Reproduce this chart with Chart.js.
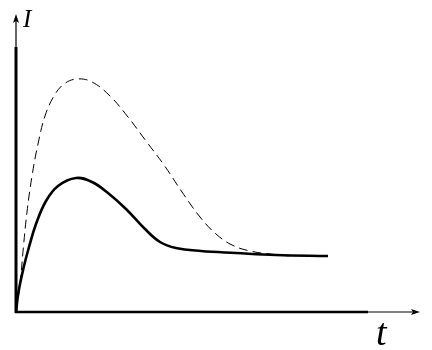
<!DOCTYPE html>
<html>
<head>
<meta charset="utf-8">
<style>
  html, body { margin: 0; padding: 0; background: #fff; }
  #wrap { width: 432px; height: 350px; }
</style>
<script src="https://cdn.jsdelivr.net/npm/chart.js@4/dist/chart.umd.min.js"></script>
</head>
<body>
<div id="wrap"><canvas id="chart" width="432" height="350"></canvas></div>
<script>
// valores (x = tempo, y = corrente, unidades arbitrárias)
var solidX = [0, 2.5, 7.5, 13, 20, 30, 42, 60, 76, 92, 110, 128, 144, 160, 185, 220, 260, 312];
var solidY = [0, 20, 44, 65, 88, 111, 126, 134, 130, 119, 103, 84, 70, 64, 61, 59, 57, 56];

var dashX = [0, 4, 7.5, 11, 16, 22, 29, 38, 48, 61, 76, 94, 112, 130, 148, 166, 184, 200, 216, 234, 254, 274];
var dashY = [0, 28, 66, 100, 136, 168, 196, 216, 228, 233, 230, 216, 195, 171, 147, 120, 95, 78, 67, 61, 58, 56];

var axisLabelY = "I";
var axisLabelX = "t";

function pts(xs, ys) {
    return xs.map(function (x, k) { return { x: x, y: ys[k] }; });
}

// eixos com setas, desenhados a partir das escalas
var axesPlugin = {
    id: "axes",
    beforeDatasetsDraw: function (chart) {
        var c = chart.ctx, sx = chart.scales.x, sy = chart.scales.y;
        var x0 = sx.getPixelForValue(0), y0 = sy.getPixelForValue(0);
        var top = chart.chartArea.top, right = chart.chartArea.right;
        c.save();
        c.strokeStyle = "#000";
        c.fillStyle = "#000";
        c.lineCap = "butt";
        // eixo y
        c.lineWidth = 3;
        c.beginPath(); c.moveTo(x0, y0 + 1); c.lineTo(x0, top + 35); c.stroke();
        c.lineWidth = 1.2;
        c.beginPath(); c.moveTo(x0, top + 36); c.lineTo(x0, top + 8); c.stroke();
        c.beginPath();
        c.moveTo(x0, top + 2); c.lineTo(x0 - 3, top + 11); c.lineTo(x0, top + 9); c.lineTo(x0 + 3, top + 11);
        c.closePath(); c.fill();
        // eixo x
        c.lineWidth = 2.5;
        c.beginPath(); c.moveTo(x0 - 1, y0); c.lineTo(right - 52, y0); c.stroke();
        c.lineWidth = 1.2;
        c.beginPath(); c.moveTo(right - 53, y0); c.lineTo(right - 6, y0); c.stroke();
        c.beginPath();
        c.moveTo(right, y0); c.lineTo(right - 9, y0 - 3); c.lineTo(right - 7, y0); c.lineTo(right - 9, y0 + 3);
        c.closePath(); c.fill();
        // rótulos
        c.font = "italic 25px 'Liberation Serif', serif";
        c.textBaseline = "alphabetic";
        c.fillText(axisLabelY, x0 + 7, top + 15);
        c.font = "italic 38px 'Liberation Serif', serif";
        c.fillText(axisLabelX, right - 44, y0 + 33);
        c.restore();
    }
};

new Chart(document.getElementById("chart").getContext("2d"), {
    type: "line",
    data: {
        datasets: [{
            data: pts(dashX, dashY),
            borderColor: "#000",
            borderWidth: 1,
            borderDash: [9, 5],
            pointRadius: 0,
            fill: false,
            tension: 0.4
        }, {
            data: pts(solidX, solidY),
            borderColor: "#000",
            borderWidth: 2.6,
            pointRadius: 0,
            fill: false,
            tension: 0.4
        }]
    },
    options: {
        responsive: false,
        animation: false,
        layout: { padding: { left: 16, right: 12, top: 12, bottom: 38 } },
        plugins: { legend: { display: false }, tooltip: { enabled: false } },
        scales: {
            x: { type: "linear", min: 0, max: 404, display: false },
            y: { min: 0, max: 300, display: false }
        }
    },
    plugins: [axesPlugin]
});
</script>
</body>
</html>
